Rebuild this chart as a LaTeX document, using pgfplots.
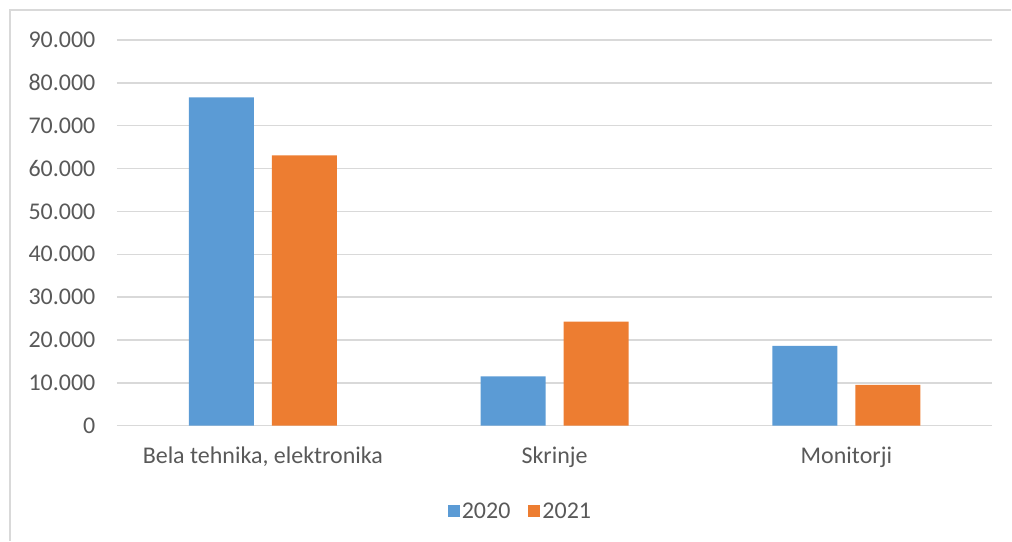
\documentclass[border=0pt]{standalone}
\usepackage{pgfplots}
\pgfplotsset{compat=1.18}
\usepackage{fontspec}
\setmainfont{Carlito}
\definecolor{cblue}{HTML}{5B9BD5}
\definecolor{corange}{HTML}{ED7D31}
\definecolor{cgrid}{HTML}{D9D9D9}
\definecolor{ctext}{HTML}{595959}
\begin{document}
\begin{tikzpicture}
\path (0,0) rectangle (1012pt,541pt);
\draw[cgrid, line width=1.5pt] (10pt,0pt) -- (10pt,531pt) -- (1012pt,531pt);
\begin{axis}[
  at={(117pt,115pt)}, anchor=south west,
  scale only axis, width=876pt, height=386pt,
  ybar=18pt, bar width=65pt,
  xmin=-0.5, xmax=2.5, ymin=0, ymax=90000,
  xtick=data, xticklabels={{Bela tehnika, elektronika}, Skrinje, Monitorji},
  ytick={0,10000,...,90000},
  scaled y ticks=false,
  ymajorgrids, grid style={cgrid, line width=1.5pt},
  axis line style={draw=none},
  major tick length=0pt,
  tick label style={font=\fontsize{24}{28}\selectfont, text=ctext},
  yticklabel style={xshift=-18pt},
  xticklabel style={yshift=-18pt},
  /pgf/number format/.cd, fixed, precision=0, 1000 sep={.}, assume math mode=true,
  /pgfplots/.cd,
  legend columns=2,
  legend style={at={(0.461,-0.2215)}, anchor=center, draw=none, fill=none,
    font=\fontsize{24}{28}\selectfont, text=ctext,
    /tikz/every even column/.append style={column sep=16pt}},
  legend image code/.code={\fill[#1] (0pt,-6pt) rectangle (12pt,6pt);},
  clip=false,
]
\addplot[fill=cblue, draw=none] coordinates {(0,76600) (1,11500) (2,18600)};
\addplot[fill=corange, draw=none] coordinates {(0,63100) (1,24300) (2,9500)};
\legend{2020,2021}
\end{axis}
\end{tikzpicture}
\end{document}
